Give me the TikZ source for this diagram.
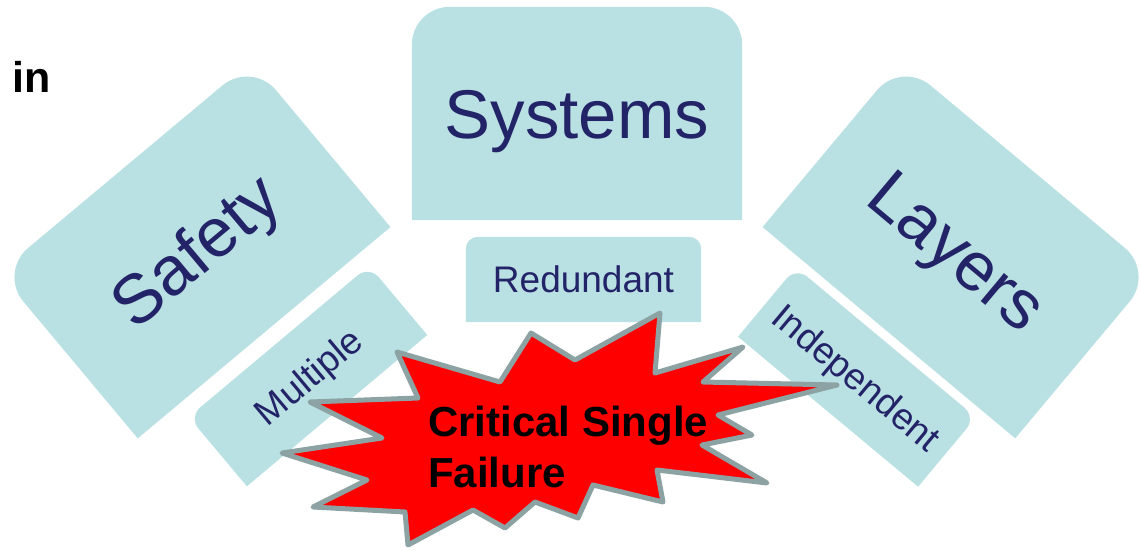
\documentclass[tikz,border=0pt]{standalone}
\usepackage{fontspec}
\setmainfont{Liberation Sans}
\usepackage{xcolor}
\usepackage{tikz}
\usetikzlibrary{backgrounds}

\definecolor{boxfill}{RGB}{185,224,227}
\definecolor{labelblue}{RGB}{35,35,104}
\definecolor{burstedge}{RGB}{140,162,163}

\begin{document}
\begin{tikzpicture}[x=1pt, y=-1pt]
\tikzstyle{panel}=[inner sep=0pt, text=labelblue, text height=49pt, text depth=0pt, font=\fontsize{69}{80}\selectfont]
\tikzstyle{tag}=[inner sep=0pt, text=labelblue, text height=26.5pt, text depth=0pt, font=\fontsize{37}{44}\selectfont]
\tikzstyle{burst}=[fill=red, draw=burstedge, line width=5pt, line join=round]
\useasboundingbox (0,0) rectangle (1140,550);

\node[anchor=base west, inner sep=0pt, font=\fontsize{43}{50}\selectfont\bfseries] (in) at (12,92) {in};

\node[panel, minimum width=330, minimum height=213] (systems) at (577,113.5) {Systems};
\node[tag, minimum width=235, minimum height=85] (redundant) at (583.5,279.5) {Redundant};
\node[panel, rotate=39.9, minimum width=329, minimum height=216] (safety) at (194.7,249.7) {Safety};
\node[tag, rotate=40, minimum width=235, minimum height=90] (multiple) at (308,376) {Multiple};
\node[panel, rotate=-39.9, minimum width=329, minimum height=216] (layers) at (958.3,249.7) {Layers};
\node[tag, rotate=-39.8, minimum width=234, minimum height=90] (independent) at (857,377) {Independent};

% tabs: only the upper corners are rounded
\begin{pgfonlayer}{background}
\foreach \n/\r in {systems/38, redundant/12, safety/38, multiple/15, layers/38, independent/15}
  \fill[boxfill] (\n.south west) [rounded corners=\r] -- (\n.north west) -- (\n.north east) [sharp corners] -- (\n.south east) -- cycle;
\end{pgfonlayer}

\filldraw[burst] (397,352) -- (500,382) -- (531,333) -- (575,360) -- (660,313) -- (655,373)
  -- (743,347) -- (703,382) -- (837,385) -- (718,415) -- (752,435) -- (702,445)
  -- (767,483) -- (657,470) -- (663,502) -- (593,485) -- (578,518) -- (535,502)
  -- (505,528) -- (473,510) -- (408,545) -- (405,512) -- (313,507) -- (367,480)
  -- (282,453) -- (382,438) -- (310,402) -- (418,398) -- cycle;
\node[anchor=north west, align=left, inner sep=0pt, font=\fontsize{42}{51}\selectfont\bfseries] (failure) at (428,406) {Critical Single\\Failure};
\end{tikzpicture}
\end{document}
